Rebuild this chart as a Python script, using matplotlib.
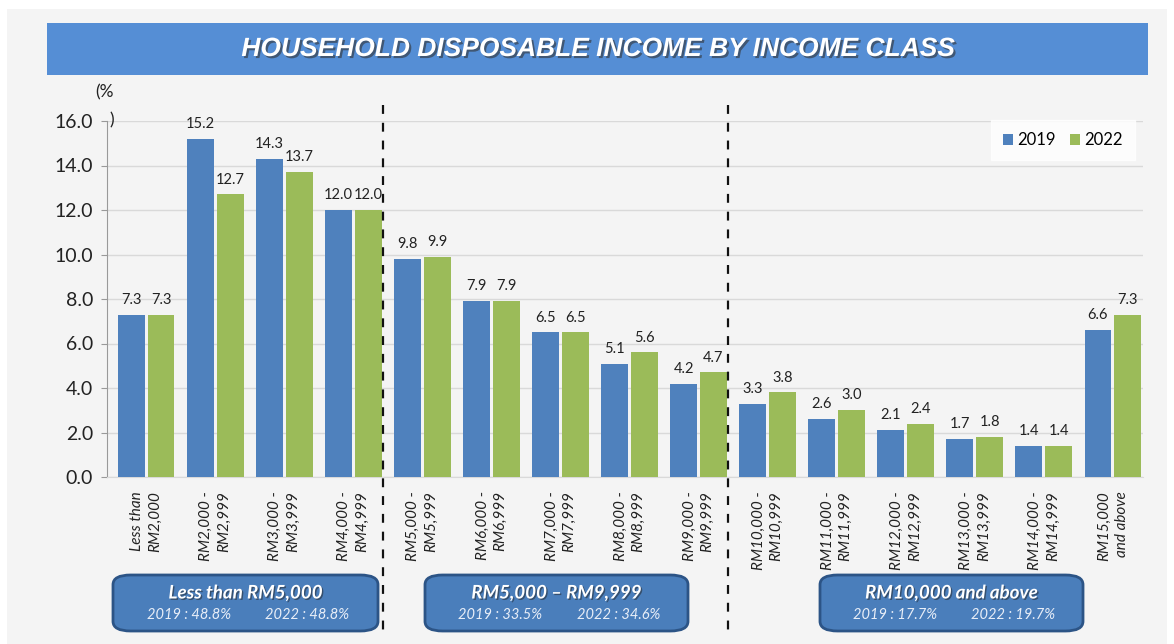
import matplotlib.pyplot as plt
import matplotlib.patheffects as pe
from matplotlib.patches import FancyBboxPatch, Rectangle
import numpy as np

plt.rcParams['font.family'] = ['Lato', 'DejaVu Sans']

# Data
categories = ["Less than\nRM2,000", "RM2,000 -\nRM2,999", "RM3,000 -\nRM3,999",
              "RM4,000 -\nRM4,999", "RM5,000 -\nRM5,999", "RM6,000 -\nRM6,999",
              "RM7,000 -\nRM7,999", "RM8,000 -\nRM8,999", "RM9,000 -\nRM9,999",
              "RM10,000 -\nRM10,999", "RM11,000 -\nRM11,999", "RM12,000 -\nRM12,999",
              "RM13,000 -\nRM13,999", "RM14,000 -\nRM14,999", "RM15,000\nand above"]
share_2019 = [7.3, 15.2, 14.3, 12.0, 9.8, 7.9, 6.5, 5.1, 4.2, 3.3, 2.6, 2.1, 1.7, 1.4, 6.6]
share_2022 = [7.3, 12.7, 13.7, 12.0, 9.9, 7.9, 6.5, 5.6, 4.7, 3.8, 3.0, 2.4, 1.8, 1.4, 7.3]
groups = ["Less than RM5,000", "RM5,000 \u2013 RM9,999", "RM10,000 and above"]
group_2019 = ["48.8%", "33.5%", "17.7%"]
group_2022 = ["48.8%", "34.6%", "19.7%"]

BLUE = "#4f81bd"
GREEN = "#9bbb59"

W, H = 1174, 644
fig = plt.figure(figsize=(W / 100, H / 100), dpi=100)
fig.patch.set_facecolor("white")

# gray panel background
fig.patches.append(Rectangle((7 / W, 0), 1 - 14 / W, 1 - 9 / H, transform=fig.transFigure,
                             facecolor="#f4f4f4", edgecolor="none", zorder=-10))
# title banner
fig.patches.append(Rectangle((47 / W, 1 - 75 / H), (1148 - 47) / W, 52 / H,
                             transform=fig.transFigure, facecolor="#558ed5",
                             edgecolor="none", zorder=-5))
fig.text(598 / W, 1 - 49 / H, "HOUSEHOLD DISPOSABLE INCOME BY INCOME CLASS",
         color="white", fontsize=19, fontweight="bold", style="italic",
         family="Liberation Sans", ha="center", va="center",
         path_effects=[pe.withSimplePatchShadow(offset=(1.5, -1.5), shadow_rgbFace="#333333", alpha=0.6)])

ax = fig.add_axes([107 / W, 1 - 477 / H, 1036 / W, 356 / H])
ax.set_facecolor("none")
x = np.arange(len(categories))
bw = 0.39
off = 0.217
ax.bar(x - off, share_2019, bw, color=BLUE, label="2019", zorder=3)
ax.bar(x + off, share_2022, bw, color=GREEN, label="2022", zorder=3)

for xi, v in zip(x, share_2019):
    ax.text(xi - off, v + 0.35, f"{v:.1f}", ha="center", va="bottom", fontsize=10.5, color="#222222")
for xi, v in zip(x, share_2022):
    ax.text(xi + off, v + 0.35, f"{v:.1f}", ha="center", va="bottom", fontsize=10.5, color="#222222")

ax.set_xlim(-0.565, len(categories) - 0.565)
ax.set_ylim(0, 16)
ax.set_yticks(np.arange(0, 16.1, 2))
ax.set_yticklabels([f"{t:.1f}" for t in np.arange(0, 16.1, 2)], fontsize=14, color="#222222")
ax.yaxis.grid(True, color="#d9d9d9", linewidth=1, zorder=0)
ax.set_xticks(x)
ax.set_xticklabels(categories, rotation=90, fontsize=11, style="italic",
                   va="top", ha="center", multialignment="right", linespacing=1.35,
                   color="#222222")
ax.tick_params(axis="x", length=0, pad=10)
ax.tick_params(axis="y", length=4, color="#999999", pad=6)
for s in ["top", "right"]:
    ax.spines[s].set_visible(False)
ax.spines["left"].set_color("#999999")
ax.spines["bottom"].set_color("#d9d9d9")

fig.text(104 / W, 1 - 92 / H, "(%", fontsize=12.5, ha="center", va="center", color="#222222")
fig.text(112 / W, 1 - 120 / H, ")", fontsize=12.5, ha="center", va="center", color="#222222")

leg = ax.legend(loc="upper right", bbox_to_anchor=(1.0, 1.025), ncol=2, frameon=True,
                fontsize=12, handlelength=0.6, handleheight=0.6, handletextpad=0.3,
                columnspacing=0.8, borderpad=0.7, fancybox=False)
leg.get_frame().set_edgecolor("white")
leg.get_frame().set_facecolor("white")

# dashed separators
for xs in [383, 728]:
    fig.add_artist(plt.Line2D([xs / W, xs / W], [1 - 105 / H, 1 - 634 / H],
                              transform=fig.transFigure, color="#111111",
                              linestyle=(0, (4, 4)), linewidth=1.6))

# group boxes
boxes = [(113, 378), (425, 688), (820, 1083)]
for (x0, x1), name, a, b in zip(boxes, groups, group_2019, group_2022):
    fig.patches.append(FancyBboxPatch((x0 / W, 1 - 631 / H), (x1 - x0) / W, 56 / H,
                                      boxstyle="round,pad=0,rounding_size=0.015",
                                      transform=fig.transFigure, facecolor="#4a7ebb",
                                      edgecolor="#2c5486", linewidth=2))
    cx = (x0 + x1) / 2 / W
    fig.text(cx, 1 - 593 / H, name, color="white", fontsize=13.5, fontweight="bold",
             style="italic", ha="center", va="center",
             path_effects=[pe.withSimplePatchShadow(offset=(1, -1), shadow_rgbFace="#222222", alpha=0.5)])
    fig.text(cx - 56 / W, 1 - 615 / H, f"2019 : {a}", color="#e8eef8", fontsize=10.5,
             style="italic", ha="center", va="center")
    fig.text(cx + 62 / W, 1 - 615 / H, f"2022 : {b}", color="#e8eef8", fontsize=10.5,
             style="italic", ha="center", va="center")

fig.savefig("out.png", dpi=100)
